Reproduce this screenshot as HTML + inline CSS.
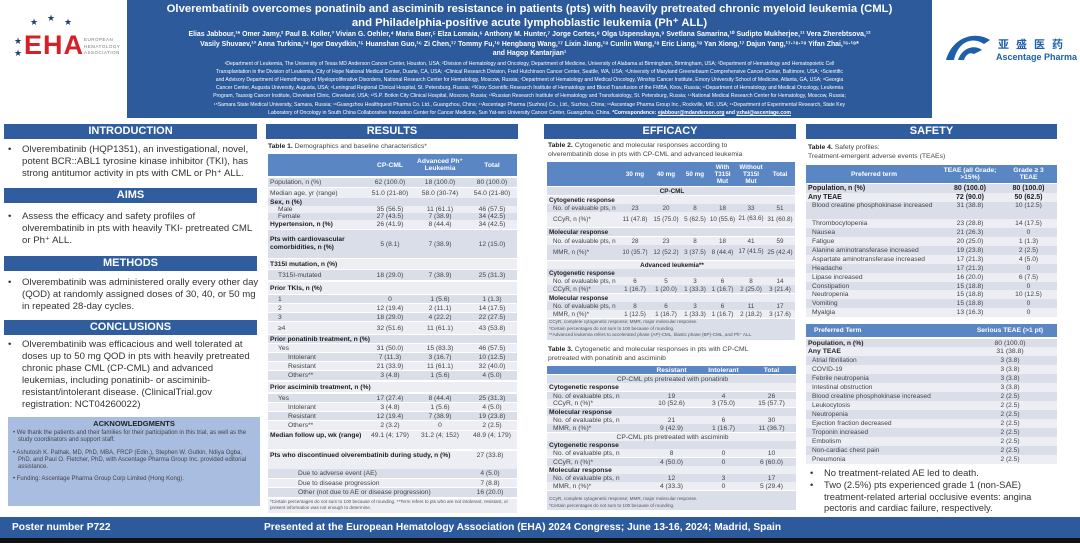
<!DOCTYPE html>
<html><head><meta charset="utf-8"><style>
*{margin:0;padding:0;box-sizing:border-box}
body{width:1080px;height:545px;position:relative;overflow:hidden;background:#fff;font-family:"Liberation Sans",Arial,sans-serif;color:#333}
.a{position:absolute}
.bar{position:absolute;background:#2f5d9e;color:#fff;font-weight:bold;text-align:center;font-size:11px;line-height:15px;height:15px}
.bt{position:absolute;font-size:9.6px;line-height:12px;color:#333}
.bt li{list-style:none;position:relative;padding-left:18px}
.bt li:before{content:"•";position:absolute;left:4px}
.r{position:absolute;display:flex;align-items:center;font-size:6.7px;color:#444;white-space:nowrap;overflow:hidden}
.r span{display:block;text-align:center}
.r span:first-child{text-align:left;padding-left:2px}
.d{background:#d9dee9}.l{background:#eceef4}
.b{font-weight:bold;color:#222}
.h{background:#5a86c4;color:#fff;font-weight:bold}
.h span{color:#fff;text-align:center!important;line-height:7px}
.t1 span:nth-child(1){width:99px}.t1 span:nth-child(2){width:46px}.t1 span:nth-child(3){width:54px}.t1 span:nth-child(4){width:50px}
.t2{font-size:6.3px}
.t2 span:nth-child(1){width:73px}.t2 span:nth-child(2){width:30px}.t2 span:nth-child(3){width:32px}.t2 span:nth-child(4){width:26px}.t2 span:nth-child(5){width:29px}.t2 span:nth-child(6){width:28px}.t2 span:nth-child(7){width:30px}
.t3 span:nth-child(1){width:96px}.t3 span:nth-child(2){width:57px}.t3 span:nth-child(3){width:47px}.t3 span:nth-child(4){width:49px}
.t4 span:nth-child(1){width:134px}.t4 span:nth-child(2){width:60px}.t4 span:nth-child(3){width:57px}
.t5 span:nth-child(1){width:157px}.t5 span:nth-child(2){width:94px}
.cap{position:absolute;font-size:6.8px;line-height:9px;color:#444}
.cap b{color:#222}
</style></head><body>

<div class="a" style="left:30px;top:17px;color:#1f3b78;font-size:9px">★</div>
<div class="a" style="left:47px;top:13px;color:#1f3b78;font-size:9px">★</div>
<div class="a" style="left:64px;top:17px;color:#1f3b78;font-size:9px">★</div>
<div class="a" style="left:14px;top:36px;color:#1f3b78;font-size:9px">★</div>
<div class="a" style="left:14px;top:48px;color:#1f3b78;font-size:9px">★</div>
<div class="a" style="left:24px;top:30px;color:#d42027;font-size:27px;font-weight:bold;letter-spacing:1px">EHA</div>
<div class="a" style="left:84px;top:37px;color:#777;font-size:4.5px;line-height:6.5px;letter-spacing:.5px">EUROPEAN<br>HEMATOLOGY<br>ASSOCIATION</div>

<div class="a" style="left:127px;top:0;width:805px;height:118px;background:#2d5a9b;color:#fff;text-align:center">
<div style="font-size:11.3px;font-weight:bold;line-height:13.5px;margin-top:3px">Olverembatinib overcomes ponatinib and asciminib resistance in patients (pts) with heavily pretreated chronic myeloid leukemia (CML)<br>and Philadelphia-positive acute lymphoblastic leukemia (Ph⁺ ALL)</div>
<div style="font-size:6.9px;font-weight:bold;line-height:9.5px;white-space:nowrap">Elias Jabbour,¹* Omer Jamy,² Paul B. Koller,³ Vivian G. Oehler,⁴ Maria Baer,⁵ Elza Lomaia,⁶ Anthony M. Hunter,⁷ Jorge Cortes,⁸ Olga Uspenskaya,⁹ Svetlana Samarina,¹⁰ Sudipto Mukherjee,¹¹ Vera Zherebtsova,¹²<br>Vasily Shuvaev,¹³ Anna Turkina,¹⁴ Igor Davydkin,¹⁵ Huanshan Guo,¹⁶ Zi Chen,¹⁷ Tommy Fu,¹⁸ Hengbang Wang,¹⁷ Lixin Jiang,¹⁸ Cunlin Wang,¹⁸ Eric Liang,¹⁸ Yan Xiong,¹⁷ Dajun Yang,¹⁷·¹⁸·¹⁹ Yifan Zhai,¹⁶·¹⁸*<br>and Hagop Kantarjian¹</div>
<div style="font-size:5.1px;line-height:8.2px;margin-top:1px;white-space:nowrap">¹Department of Leukemia, The University of Texas MD Anderson Cancer Center, Houston, USA; ²Division of Hematology and Oncology, Department of Medicine, University of Alabama at Birmingham, Birmingham, USA; ³Department of Hematology and Hematopoietic Cell<br>Transplantation in the Division of Leukemia, City of Hope National Medical Center, Duarte, CA, USA; ⁴Clinical Research Division, Fred Hutchinson Cancer Center, Seattle, WA, USA; ⁵University of Maryland Greenebaum Comprehensive Cancer Center, Baltimore, USA; ⁶Scientific<br>and Advisory Department of Hemotherapy of Myeloproliferative Disorders, National Research Center for Hematology, Moscow, Russia; ⁷Department of Hematology and Medical Oncology, Winship Cancer Institute, Emory University School of Medicine, Atlanta, GA, USA; ⁸Georgia<br>Cancer Center, Augusta University, Augusta, USA; ⁹Leningrad Regional Clinical Hospital, St. Petersburg, Russia; ¹⁰Kirov Scientific Research Institute of Hematology and Blood Transfusion of the FMBA, Kirov, Russia; ¹¹Department of Hematology and Medical Oncology, Leukemia<br>Program, Taussig Cancer Institute, Cleveland Clinic, Cleveland, USA; ¹²S.P. Botkin City Clinical Hospital, Moscow, Russia; ¹³Russian Research Institute of Hematology and Transfusiology, St. Petersburg, Russia; ¹⁴National Medical Research Center for Hematology, Moscow, Russia;<br>¹⁵Samara State Medical University, Samara, Russia; ¹⁶Guangzhou Healthquest Pharma Co. Ltd., Guangzhou, China; ¹⁷Ascentage Pharma (Suzhou) Co., Ltd., Suzhou, China; ¹⁸Ascentage Pharma Group Inc., Rockville, MD, USA; ¹⁹Department of Experimental Research, State Key<br>Laboratory of Oncology in South China Collaborative Innovation Center for Cancer Medicine, Sun Yat-sen University Cancer Center, Guangzhou, China. <b>*Correspondence: <u>ejabbour@mdanderson.org</u> and <u>yzhai@ascentage.com</u></b></div>
</div>

<svg class="a" style="left:944px;top:30px" width="48" height="34"><path d="M2 30 C8 8 30 0 46 10 L40 14 C28 6 14 12 10 30 Z" fill="#1d5fa8"/><path d="M14 30 C18 18 30 14 38 20 L30 24 C26 22 22 24 20 30Z" fill="#1d5fa8"/></svg>
<div class="a" style="left:998px;top:36px;color:#1d5fa8;font-size:11px;font-weight:bold;letter-spacing:7px;font-family:'Noto Sans CJK SC',sans-serif">亚盛医药</div>
<div class="a" style="left:996px;top:52px;color:#1d5fa8;font-size:9px;font-weight:bold">Ascentage Pharma</div>

<div class="bar" style="left:4px;top:124px;width:253px">INTRODUCTION</div>
<ul class="bt" style="left:4px;top:144px;width:256px"><li>Olverembatinib (HQP1351), an investigational, novel, potent BCR::ABL1 tyrosine kinase inhibitor (TKI), has strong antitumor activity in pts with CML or Ph⁺ ALL.</li></ul>
<div class="bar" style="left:4px;top:188px;width:253px">AIMS</div>
<ul class="bt" style="left:4px;top:211px;width:256px"><li>Assess the efficacy and safety profiles of olverembatinib in pts with heavily TKI- pretreated CML or Ph⁺ ALL.</li></ul>
<div class="bar" style="left:4px;top:256px;width:253px">METHODS</div>
<ul class="bt" style="left:4px;top:277px;width:256px"><li>Olverembatinib was administered orally every other day (QOD) at randomly assigned doses of 30, 40, or 50 mg in repeated 28-day cycles.</li></ul>
<div class="bar" style="left:4px;top:320px;width:253px">CONCLUSIONS</div>
<ul class="bt" style="left:4px;top:339px;width:256px"><li>Olverembatinib was efficacious and well tolerated at doses up to 50 mg QOD in pts with heavily pretreated chronic phase CML (CP-CML) and advanced leukemias, including ponatinib- or asciminib-resistant/intolerant disease. (ClinicalTrial.gov registration: NCT04260022)</li></ul>
<div class="a" style="left:8px;top:417px;width:252px;height:89px;background:#a9bde0;font-size:6px;line-height:7.3px;color:#444">
<div style="text-align:center;font-weight:bold;font-size:7.5px;color:#222;margin-top:2px;line-height:9px">ACKNOWLEDGMENTS</div>
<div style="padding:2px 6px 0 10px;text-indent:-5px">• We thank the patients and their families for their participation in this trial, as well as the study coordinators and support staff.</div>
<div style="padding:5px 6px 0 10px;text-indent:-5px">• Ashutosh K. Pathak, MD, PhD, MBA, FRCP (Edin.), Stephen W. Gutkin, Ndiya Ogba, PhD, and Paul O. Fletcher, PhD, with Ascentage Pharma Group Inc. provided editorial assistance.</div>
<div style="padding:5px 6px 0 10px;text-indent:-5px">• Funding: Ascentage Pharma Group Corp Limited (Hong Kong).</div>
</div>

<div class="bar" style="left:266px;top:124px;width:252px">RESULTS</div>
<div class="cap" style="left:268px;top:142px"><b>Table 1.</b> Demographics and baseline characteristics*</div>
<div class="r t1 h" style="left:268px;top:154px;width:249px;height:22px"><span style="background:#5a86c4"></span><span>CP-CML</span><span>Advanced Ph⁺<br>Leukemia</span><span>Total</span></div>
<div class="r t1 d" style="left:268px;top:178px;width:249px;height:9px"><span>Population, n (%)</span><span>62 (100.0)</span><span>18 (100.0)</span><span>80 (100.0)</span></div>
<div class="r t1 l" style="left:268px;top:188px;width:249px;height:10px"><span>Median age, yr (range)</span><span>51.0 (21-80)</span><span>58.0 (30-74)</span><span>54.0 (21-80)</span></div>
<div class="r t1 d" style="left:268px;top:198px;width:249px;height:8px"><span class="b">Sex, n (%)</span><span></span><span></span><span></span></div>
<div class="r t1 l" style="left:268px;top:206px;width:249px;height:7px"><span style="padding-left:10px">Male</span><span>35 (56.5)</span><span>11 (61.1)</span><span>46 (57.5)</span></div>
<div class="r t1 d" style="left:268px;top:213px;width:249px;height:7px"><span style="padding-left:10px">Female</span><span>27 (43.5)</span><span>7 (38.9)</span><span>34 (42.5)</span></div>
<div class="r t1 l" style="left:268px;top:220px;width:249px;height:9px"><span class="b">Hypertension, n (%)</span><span>26 (41.9)</span><span>8 (44.4)</span><span>34 (42.5)</span></div>
<div class="r t1 d" style="left:268px;top:230px;width:249px;height:28px"><span class="b" style="white-space:normal;line-height:8px">Pts with cardiovascular comorbidities, n (%)</span><span>5 (8.1)</span><span>7 (38.9)</span><span>12 (15.0)</span></div>
<div class="r t1 l" style="left:268px;top:259px;width:249px;height:10px"><span class="b">T315I mutation, n (%)</span><span></span><span></span><span></span></div>
<div class="r t1 d" style="left:268px;top:270px;width:249px;height:10px"><span style="padding-left:10px">T315I-mutated</span><span>18 (29.0)</span><span>7 (38.9)</span><span>25 (31.3)</span></div>
<div class="r t1 l" style="left:268px;top:282px;width:249px;height:12px"><span class="b">Prior TKIs, n (%)</span><span></span><span></span><span></span></div>
<div class="r t1 d" style="left:268px;top:295px;width:249px;height:8px"><span style="padding-left:10px">1</span><span>0</span><span>1 (5.6)</span><span>1 (1.3)</span></div>
<div class="r t1 l" style="left:268px;top:304px;width:249px;height:8px"><span style="padding-left:10px">2</span><span>12 (19.4)</span><span>2 (11.1)</span><span>14 (17.5)</span></div>
<div class="r t1 d" style="left:268px;top:313px;width:249px;height:8px"><span style="padding-left:10px">3</span><span>18 (29.0)</span><span>4 (22.2)</span><span>22 (27.5)</span></div>
<div class="r t1 l" style="left:268px;top:322px;width:249px;height:12px"><span style="padding-left:10px">≥4</span><span>32 (51.6)</span><span>11 (61.1)</span><span>43 (53.8)</span></div>
<div class="r t1 d" style="left:268px;top:335px;width:249px;height:8px"><span class="b" style="width:200px">Prior ponatinib treatment, n (%)</span></div>
<div class="r t1 l" style="left:268px;top:344px;width:249px;height:8px"><span style="padding-left:10px">Yes</span><span>31 (50.0)</span><span>15 (83.3)</span><span>46 (57.5)</span></div>
<div class="r t1 d" style="left:268px;top:353px;width:249px;height:8px"><span style="padding-left:20px">Intolerant</span><span>7 (11.3)</span><span>3 (16.7)</span><span>10 (12.5)</span></div>
<div class="r t1 l" style="left:268px;top:362px;width:249px;height:8px"><span style="padding-left:20px">Resistant</span><span>21 (33.9)</span><span>11 (61.1)</span><span>32 (40.0)</span></div>
<div class="r t1 d" style="left:268px;top:371px;width:249px;height:9px"><span style="padding-left:20px">Others**</span><span>3 (4.8)</span><span>1 (5.6)</span><span>4 (5.0)</span></div>
<div class="r t1 l" style="left:268px;top:382px;width:249px;height:10px"><span class="b" style="width:200px">Prior asciminib treatment, n (%)</span></div>
<div class="r t1 d" style="left:268px;top:394px;width:249px;height:8px"><span style="padding-left:10px">Yes</span><span>17 (27.4)</span><span>8 (44.4)</span><span>25 (31.3)</span></div>
<div class="r t1 l" style="left:268px;top:403px;width:249px;height:8px"><span style="padding-left:20px">Intolerant</span><span>3 (4.8)</span><span>1 (5.6)</span><span>4 (5.0)</span></div>
<div class="r t1 d" style="left:268px;top:412px;width:249px;height:8px"><span style="padding-left:20px">Resistant</span><span>12 (19.4)</span><span>7 (38.9)</span><span>19 (23.8)</span></div>
<div class="r t1 l" style="left:268px;top:421px;width:249px;height:9px"><span style="padding-left:20px">Others**</span><span>2 (3.2)</span><span>0</span><span>2 (2.5)</span></div>
<div class="r t1 l" style="left:268px;top:431px;width:249px;height:18px;align-items:flex-start"><span class="b" style="white-space:normal;line-height:9px">Median follow up, wk (range)</span><span style="line-height:9px">49.1 (4; 179)</span><span style="line-height:9px">31.2 (4; 152)</span><span style="line-height:9px">48.9 (4; 179)</span></div>
<div class="r t1 l" style="left:268px;top:451px;width:249px;height:18px;align-items:flex-start"><span class="b" style="width:199px;white-space:normal;line-height:9px">Pts who discontinued olverembatinib during study, n (%)</span><span style="line-height:9px">27 (33.8)</span></div>
<div class="r t1 d" style="left:268px;top:469px;width:249px;height:9px"><span style="width:199px;padding-left:30px">Due to adverse event (AE)</span><span>4 (5.0)</span></div>
<div class="r t1 l" style="left:268px;top:479px;width:249px;height:8px"><span style="width:199px;padding-left:30px">Due to disease progression</span><span>7 (8.8)</span></div>
<div class="r t1 d" style="left:268px;top:488px;width:249px;height:9px"><span style="width:199px;padding-left:30px">Other (not due to AE or disease progression)</span><span>16 (20.0)</span></div>
<div class="a" style="left:268px;top:499px;width:249px;height:14px;background:#eceef4;font-size:4.6px;line-height:6px;color:#555;padding-left:2px">*Certain percentages do not sum to 100 because of rounding. **Term refers to pts who are not intolerant, resistant, or present information was not enough to determine.</div>

<div class="bar" style="left:544px;top:124px;width:252px">EFFICACY</div>
<div class="cap" style="left:548px;top:141px"><b>Table 2.</b> Cytogenetic and molecular responses according to<br>olverembatinib dose in pts with CP-CML and advanced leukemia</div>
<div class="r t2 h" style="left:547px;top:162px;width:248px;height:24px"><span style="background:#5a86c4"></span><span>30 mg</span><span>40 mg</span><span>50 mg</span><span>With<br>T315I<br>Mut</span><span>Without<br>T315I<br>Mut</span><span>Total</span></div>
<div class="r t2 d" style="left:547px;top:187px;width:248px;height:8px;justify-content:center"><span class="b" style="width:248px;text-align:center">CP-CML</span></div>
<div class="r t2 l" style="left:547px;top:196px;width:248px;height:8px"><span class="b" style="width:200px">Cytogenetic response</span></div>
<div class="r t2 d" style="left:547px;top:204px;width:248px;height:8px"><span style="padding-left:6px">No. of evaluable pts, n</span><span>23</span><span>20</span><span>8</span><span>18</span><span>33</span><span>51</span></div>
<div class="r t2 l" style="left:547px;top:212px;width:248px;height:15px"><span style="padding-left:6px">CCyR, n (%)*</span><span>11 (47.8)</span><span>15 (75.0)</span><span>5 (62.5)</span><span>10 (55.6)</span><span style="white-space:normal;line-height:6.5px">21 (63.6)</span><span>31 (60.8)</span></div>
<div class="r t2 d" style="left:547px;top:228px;width:248px;height:8px"><span class="b" style="width:200px">Molecular response</span></div>
<div class="r t2 l" style="left:547px;top:237px;width:248px;height:8px"><span style="padding-left:6px">No. of evaluable pts, n</span><span>28</span><span>23</span><span>8</span><span>18</span><span>41</span><span>59</span></div>
<div class="r t2 d" style="left:547px;top:245px;width:248px;height:15px"><span style="padding-left:6px">MMR, n (%)*</span><span>10 (35.7)</span><span>12 (52.2)</span><span>3 (37.5)</span><span>8 (44.4)</span><span style="white-space:normal;line-height:6.5px">17 (41.5)</span><span>25 (42.4)</span></div>
<div class="r t2 l" style="left:547px;top:261px;width:248px;height:8px"><span class="b" style="width:248px;text-align:center">Advanced leukemia**</span></div>
<div class="r t2 d" style="left:547px;top:269px;width:248px;height:8px"><span class="b" style="width:200px">Cytogenetic response</span></div>
<div class="r t2 l" style="left:547px;top:277px;width:248px;height:8px"><span style="padding-left:6px">No. of evaluable pts, n</span><span>6</span><span>5</span><span>3</span><span>6</span><span>8</span><span>14</span></div>
<div class="r t2 d" style="left:547px;top:285px;width:248px;height:8px"><span style="padding-left:6px">CCyR, n (%)*</span><span>1 (16.7)</span><span>1 (20.0)</span><span>1 (33.3)</span><span>1 (16.7)</span><span>2 (25.0)</span><span>3 (21.4)</span></div>
<div class="r t2 l" style="left:547px;top:294px;width:248px;height:8px"><span class="b" style="width:200px">Molecular response</span></div>
<div class="r t2 d" style="left:547px;top:302px;width:248px;height:8px"><span style="padding-left:6px">No. of evaluable pts, n</span><span>8</span><span>6</span><span>3</span><span>6</span><span>11</span><span>17</span></div>
<div class="r t2 l" style="left:547px;top:310px;width:248px;height:8px"><span style="padding-left:6px">MMR, n (%)*</span><span>1 (12.5)</span><span>1 (16.7)</span><span>1 (33.3)</span><span>1 (16.7)</span><span>2 (18.2)</span><span>3 (17.6)</span></div>
<div class="a" style="left:547px;top:319px;width:248px;height:21px;background:#d9dee9;font-size:4.6px;line-height:6.5px;color:#555;padding-left:2px">CCyR, complete cytogenetic response; MMR, major molecular response.<br>*Certain percentages do not sum to 100 because of rounding.<br>**Advanced leukemia refers to accelerated phase (AP)-CML, blastic phase (BP)-CML, and Ph⁺ ALL.</div>

<div class="cap" style="left:548px;top:345px"><b>Table 3.</b> Cytogenetic and molecular responses in pts with CP-CML<br>pretreated with ponatinib and asciminib</div>
<div class="r t3 h" style="left:547px;top:366px;width:249px;height:8px"><span style="background:#5a86c4"></span><span>Resistant</span><span>Intolerant</span><span>Total</span></div>
<div class="r t3 d" style="left:547px;top:375px;width:249px;height:8px"><span style="width:249px;text-align:center">CP-CML pts pretreated with ponatinib</span></div>
<div class="r t3 l" style="left:547px;top:383px;width:249px;height:8px"><span class="b" style="width:200px">Cytogenetic response</span></div>
<div class="r t3 d" style="left:547px;top:392px;width:249px;height:8px"><span style="padding-left:6px">No. of evaluable pts, n</span><span>19</span><span>4</span><span>26</span></div>
<div class="r t3 l" style="left:547px;top:399px;width:249px;height:8px"><span style="padding-left:6px">CCyR, n (%)*</span><span>10 (52.6)</span><span>3 (75.0)</span><span>15 (57.7)</span></div>
<div class="r t3 d" style="left:547px;top:408px;width:249px;height:8px"><span class="b" style="width:200px">Molecular response</span></div>
<div class="r t3 l" style="left:547px;top:416px;width:249px;height:8px"><span style="padding-left:6px">No. of evaluable pts, n</span><span>21</span><span>6</span><span>30</span></div>
<div class="r t3 d" style="left:547px;top:424px;width:249px;height:8px"><span style="padding-left:6px">MMR, n (%)*</span><span>9 (42.9)</span><span>1 (16.7)</span><span>11 (36.7)</span></div>
<div class="r t3 l" style="left:547px;top:433px;width:249px;height:8px"><span style="width:249px;text-align:center">CP-CML pts pretreated with asciminib</span></div>
<div class="r t3 d" style="left:547px;top:441px;width:249px;height:8px"><span class="b" style="width:200px">Cytogenetic response</span></div>
<div class="r t3 l" style="left:547px;top:449px;width:249px;height:8px"><span style="padding-left:6px">No. of evaluable pts, n</span><span>8</span><span>0</span><span>10</span></div>
<div class="r t3 d" style="left:547px;top:458px;width:249px;height:8px"><span style="padding-left:6px">CCyR, n (%)*</span><span>4 (50.0)</span><span>0</span><span>6 (60.0)</span></div>
<div class="r t3 l" style="left:547px;top:466px;width:249px;height:8px"><span class="b" style="width:200px">Molecular response</span></div>
<div class="r t3 d" style="left:547px;top:474px;width:249px;height:8px"><span style="padding-left:6px">No. of evaluable pts, n</span><span>12</span><span>3</span><span>17</span></div>
<div class="r t3 l" style="left:547px;top:482px;width:249px;height:8px"><span style="padding-left:6px">MMR, n (%)*</span><span>4 (33.3)</span><span>0</span><span>5 (29.4)</span></div>
<div class="a" style="left:547px;top:491px;width:249px;height:19px;background:#d9dee9;font-size:4.6px;line-height:6.5px;color:#555;padding:5px 0 0 2px">CCyR, complete cytogenetic response; MMR, major molecular response.<br>*Certain percentages do not sum to 100 because of rounding.</div>

<div class="bar" style="left:806px;top:124px;width:251px">SAFETY</div>
<div class="cap" style="left:808px;top:143px">
<b>Table 4.</b> Safety profiles:<br>Treatment-emergent adverse events (TEAEs)</div>
<div class="r t4 h" style="left:806px;top:165px;width:251px;height:18px"><span style="text-align:center">Preferred term</span><span>TEAE (all Grade;<br>&gt;15%)</span><span>Grade ≥ 3<br>TEAE</span></div>
<div class="r t4 d" style="left:806px;top:184px;width:251px;height:9px;font-size:7px"><span class="b">Population, n (%)</span><span class="b">80 (100.0)</span><span class="b">80 (100.0)</span></div>
<div class="r t4 l" style="left:806px;top:193px;width:251px;height:9px;font-size:7px"><span class="b">Any TEAE</span><span class="b">72 (90.0)</span><span class="b">50 (62.5)</span></div>
<div class="r t4 d" style="left:806px;top:202px;width:251px;height:17px;align-items:flex-start;font-size:6.7px"><span style="padding-left:6px;white-space:normal;line-height:8px">Blood creatine phosphokinase increased</span><span style="line-height:8px">31 (38.8)</span><span style="line-height:8px">10 (12.5)</span></div>
<div class="r t4 l" style="left:806px;top:219px;width:251px;height:9px;font-size:6.7px"><span style="padding-left:6px">Thrombocytopenia</span><span>23 (28.8)</span><span>14 (17.5)</span></div>
<div class="r t4 d" style="left:806px;top:228px;width:251px;height:9px;font-size:6.7px"><span style="padding-left:6px">Nausea</span><span>21 (26.3)</span><span>0</span></div>
<div class="r t4 l" style="left:806px;top:237px;width:251px;height:9px;font-size:6.7px"><span style="padding-left:6px">Fatigue</span><span>20 (25.0)</span><span>1 (1.3)</span></div>
<div class="r t4 d" style="left:806px;top:246px;width:251px;height:9px;font-size:6.7px"><span style="padding-left:6px">Alanine aminotransferase increased</span><span>19 (23.8)</span><span>2 (2.5)</span></div>
<div class="r t4 l" style="left:806px;top:255px;width:251px;height:9px;font-size:6.7px"><span style="padding-left:6px">Aspartate aminotransferase increased</span><span>17 (21.3)</span><span>4 (5.0)</span></div>
<div class="r t4 d" style="left:806px;top:264px;width:251px;height:9px;font-size:6.7px"><span style="padding-left:6px">Headache</span><span>17 (21.3)</span><span>0</span></div>
<div class="r t4 l" style="left:806px;top:273px;width:251px;height:9px;font-size:6.7px"><span style="padding-left:6px">Lipase increased</span><span>16 (20.0)</span><span>6 (7.5)</span></div>
<div class="r t4 d" style="left:806px;top:282px;width:251px;height:9px;font-size:6.7px"><span style="padding-left:6px">Constipation</span><span>15 (18.8)</span><span>0</span></div>
<div class="r t4 l" style="left:806px;top:290px;width:251px;height:9px;font-size:6.7px"><span style="padding-left:6px">Neutropenia</span><span>15 (18.8)</span><span>10 (12.5)</span></div>
<div class="r t4 d" style="left:806px;top:299px;width:251px;height:9px;font-size:6.7px"><span style="padding-left:6px">Vomiting</span><span>15 (18.8)</span><span>0</span></div>
<div class="r t4 l" style="left:806px;top:308px;width:251px;height:9px;font-size:6.7px"><span style="padding-left:6px">Myalgia</span><span>13 (16.3)</span><span>0</span></div>

<div class="r t5 h" style="left:806px;top:324px;width:251px;height:13px;font-size:6.7px"><span style="padding-left:8px;text-align:left!important">Preferred Term</span><span>Serious TEAE (&gt;1 pt)</span></div>
<div class="r t5 d" style="left:806px;top:339px;width:251px;height:9px;font-size:6.8px"><span class="b">Population, n (%)</span><span>80 (100.0)</span></div>
<div class="r t5 l" style="left:806px;top:347px;width:251px;height:9px;font-size:6.8px"><span class="b">Any TEAE</span><span>31 (38.8)</span></div>
<div class="r t5 d" style="left:806px;top:356px;width:251px;height:9px;font-size:6.6px"><span style="padding-left:6px">Atrial fibrillation</span><span>3 (3.8)</span></div>
<div class="r t5 l" style="left:806px;top:365px;width:251px;height:9px;font-size:6.6px"><span style="padding-left:6px">COVID-19</span><span>3 (3.8)</span></div>
<div class="r t5 d" style="left:806px;top:374px;width:251px;height:9px;font-size:6.6px"><span style="padding-left:6px">Febrile neutropenia</span><span>3 (3.8)</span></div>
<div class="r t5 l" style="left:806px;top:383px;width:251px;height:9px;font-size:6.6px"><span style="padding-left:6px">Intestinal obstruction</span><span>3 (3.8)</span></div>
<div class="r t5 d" style="left:806px;top:392px;width:251px;height:9px;font-size:6.6px"><span style="padding-left:6px">Blood creatine phosphokinase increased</span><span>2 (2.5)</span></div>
<div class="r t5 l" style="left:806px;top:401px;width:251px;height:9px;font-size:6.6px"><span style="padding-left:6px">Leukocytosis</span><span>2 (2.5)</span></div>
<div class="r t5 d" style="left:806px;top:410px;width:251px;height:9px;font-size:6.6px"><span style="padding-left:6px">Neutropenia</span><span>2 (2.5)</span></div>
<div class="r t5 l" style="left:806px;top:419px;width:251px;height:9px;font-size:6.6px"><span style="padding-left:6px">Ejection fraction decreased</span><span>2 (2.5)</span></div>
<div class="r t5 d" style="left:806px;top:428px;width:251px;height:9px;font-size:6.6px"><span style="padding-left:6px">Troponin increased</span><span>2 (2.5)</span></div>
<div class="r t5 l" style="left:806px;top:437px;width:251px;height:9px;font-size:6.6px"><span style="padding-left:6px">Embolism</span><span>2 (2.5)</span></div>
<div class="r t5 d" style="left:806px;top:446px;width:251px;height:9px;font-size:6.6px"><span style="padding-left:6px">Non-cardiac chest pain</span><span>2 (2.5)</span></div>
<div class="r t5 l" style="left:806px;top:455px;width:251px;height:9px;font-size:6.6px"><span style="padding-left:6px">Pneumonia</span><span>2 (2.5)</span></div>
<ul class="bt" style="left:806px;top:467px;width:256px;font-size:9.4px;line-height:11.8px"><li>No treatment-related AE led to death.</li><li>Two (2.5%) pts experienced grade 1 (non-SAE) treatment-related arterial occlusive events: angina pectoris and cardiac failure, respectively.</li></ul>

<div class="a" style="left:0;top:517px;width:1080px;height:21px;background:#2d5a9b;color:#fff;font-weight:bold;font-size:10.2px;line-height:21px">
<span class="a" style="left:12px">Poster number P722</span>
<span class="a" style="left:264px">Presented at the European Hematology Association (EHA) 2024 Congress; June 13-16, 2024; Madrid, Spain</span>
</div>
<div class="a" style="left:0;top:538px;width:1080px;height:5px;background:#111"></div>
</body></html>
